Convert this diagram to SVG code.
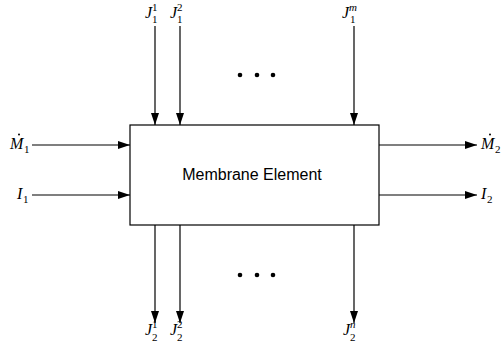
<svg xmlns="http://www.w3.org/2000/svg" width="501" height="345" viewBox="0 0 501 345">
<defs>
<marker id="ah" viewBox="0 0 12 8" refX="12" refY="4" markerWidth="12" markerHeight="8" markerUnits="userSpaceOnUse" orient="auto">
<path d="M0,0 L12,4 L0,8 Z" fill="#000"/>
</marker>
</defs>
<style>
.ln{stroke:#000;stroke-width:1.2;fill:none;marker-end:url(#ah)}
.v{font-family:'Liberation Serif','DejaVu Serif',serif;font-style:italic;font-size:16px;fill:#000}
.s{font-family:'Liberation Serif','DejaVu Serif',serif;font-size:11px;fill:#000}
.si{font-family:'Liberation Serif','DejaVu Serif',serif;font-style:italic;font-size:11px;fill:#000}
.t{font-family:'Liberation Sans',Arial,sans-serif;font-size:16px;fill:#000}
</style>
<rect width="501" height="345" fill="#fff"/>
<g id="membrane-element">
<rect x="130" y="125" width="249" height="100" fill="#fff" stroke="#000" stroke-width="1.2"/>
<text class="t" x="252" y="180" text-anchor="middle">Membrane Element</text>
</g>
<g id="connectors">
<line class="ln" x1="155" y1="26" x2="155" y2="125"/>
<line class="ln" x1="180" y1="26" x2="180" y2="125"/>
<line class="ln" x1="354" y1="26" x2="354" y2="125"/>
<line class="ln" x1="155" y1="225" x2="155" y2="323"/>
<line class="ln" x1="180" y1="225" x2="180" y2="323"/>
<line class="ln" x1="354" y1="225" x2="354" y2="323"/>
<line class="ln" x1="32" y1="145" x2="130" y2="145"/>
<line class="ln" x1="32" y1="195" x2="130" y2="195"/>
<line class="ln" x1="379" y1="145" x2="477" y2="145"/>
<line class="ln" x1="379" y1="195" x2="477" y2="195"/>
</g>
<g id="dots-top">
<circle cx="240" cy="75" r="2.3" fill="#000"/>
<circle cx="257" cy="75" r="2.3" fill="#000"/>
<circle cx="273" cy="75" r="2.3" fill="#000"/>
</g>
<g id="dots-bottom">
<circle cx="240" cy="275" r="2.3" fill="#000"/>
<circle cx="257" cy="275" r="2.3" fill="#000"/>
<circle cx="273" cy="275" r="2.3" fill="#000"/>
</g>
<g id="label-J11">
<text class="v" x="145" y="18">J</text><text class="s" x="152" y="11">1</text><text class="s" x="152" y="23">1</text>
</g>
<g id="label-J12">
<text class="v" x="170" y="18">J</text><text class="s" x="177" y="11">2</text><text class="s" x="177" y="23">1</text>
</g>
<g id="label-J1m">
<text class="v" x="342" y="18">J</text><text class="si" x="349" y="11">m</text><text class="s" x="350" y="23">1</text>
</g>
<g id="label-J21">
<text class="v" x="145" y="335">J</text><text class="s" x="152" y="328">1</text><text class="s" x="152" y="341">2</text>
</g>
<g id="label-J22">
<text class="v" x="170" y="335">J</text><text class="s" x="177" y="328">2</text><text class="s" x="177" y="341">2</text>
</g>
<g id="label-J2n">
<text class="v" x="343" y="335">J</text><text class="si" x="350" y="328">n</text><text class="s" x="350" y="341">2</text>
</g>
<g id="label-M1">
<text class="v" x="10" y="149">M</text><text class="s" x="24" y="153">1</text>
<circle cx="19" cy="134.5" r="1" fill="#000"/>
</g>
<g id="label-I1">
<text class="v" x="17" y="199">I</text><text class="s" x="23" y="203">1</text>
</g>
<g id="label-M2">
<text class="v" x="481" y="149">M</text><text class="s" x="495" y="153">2</text>
<circle cx="490" cy="134.5" r="1" fill="#000"/>
</g>
<g id="label-I2">
<text class="v" x="481" y="199">I</text><text class="s" x="487" y="203">2</text>
</g>
</svg>
